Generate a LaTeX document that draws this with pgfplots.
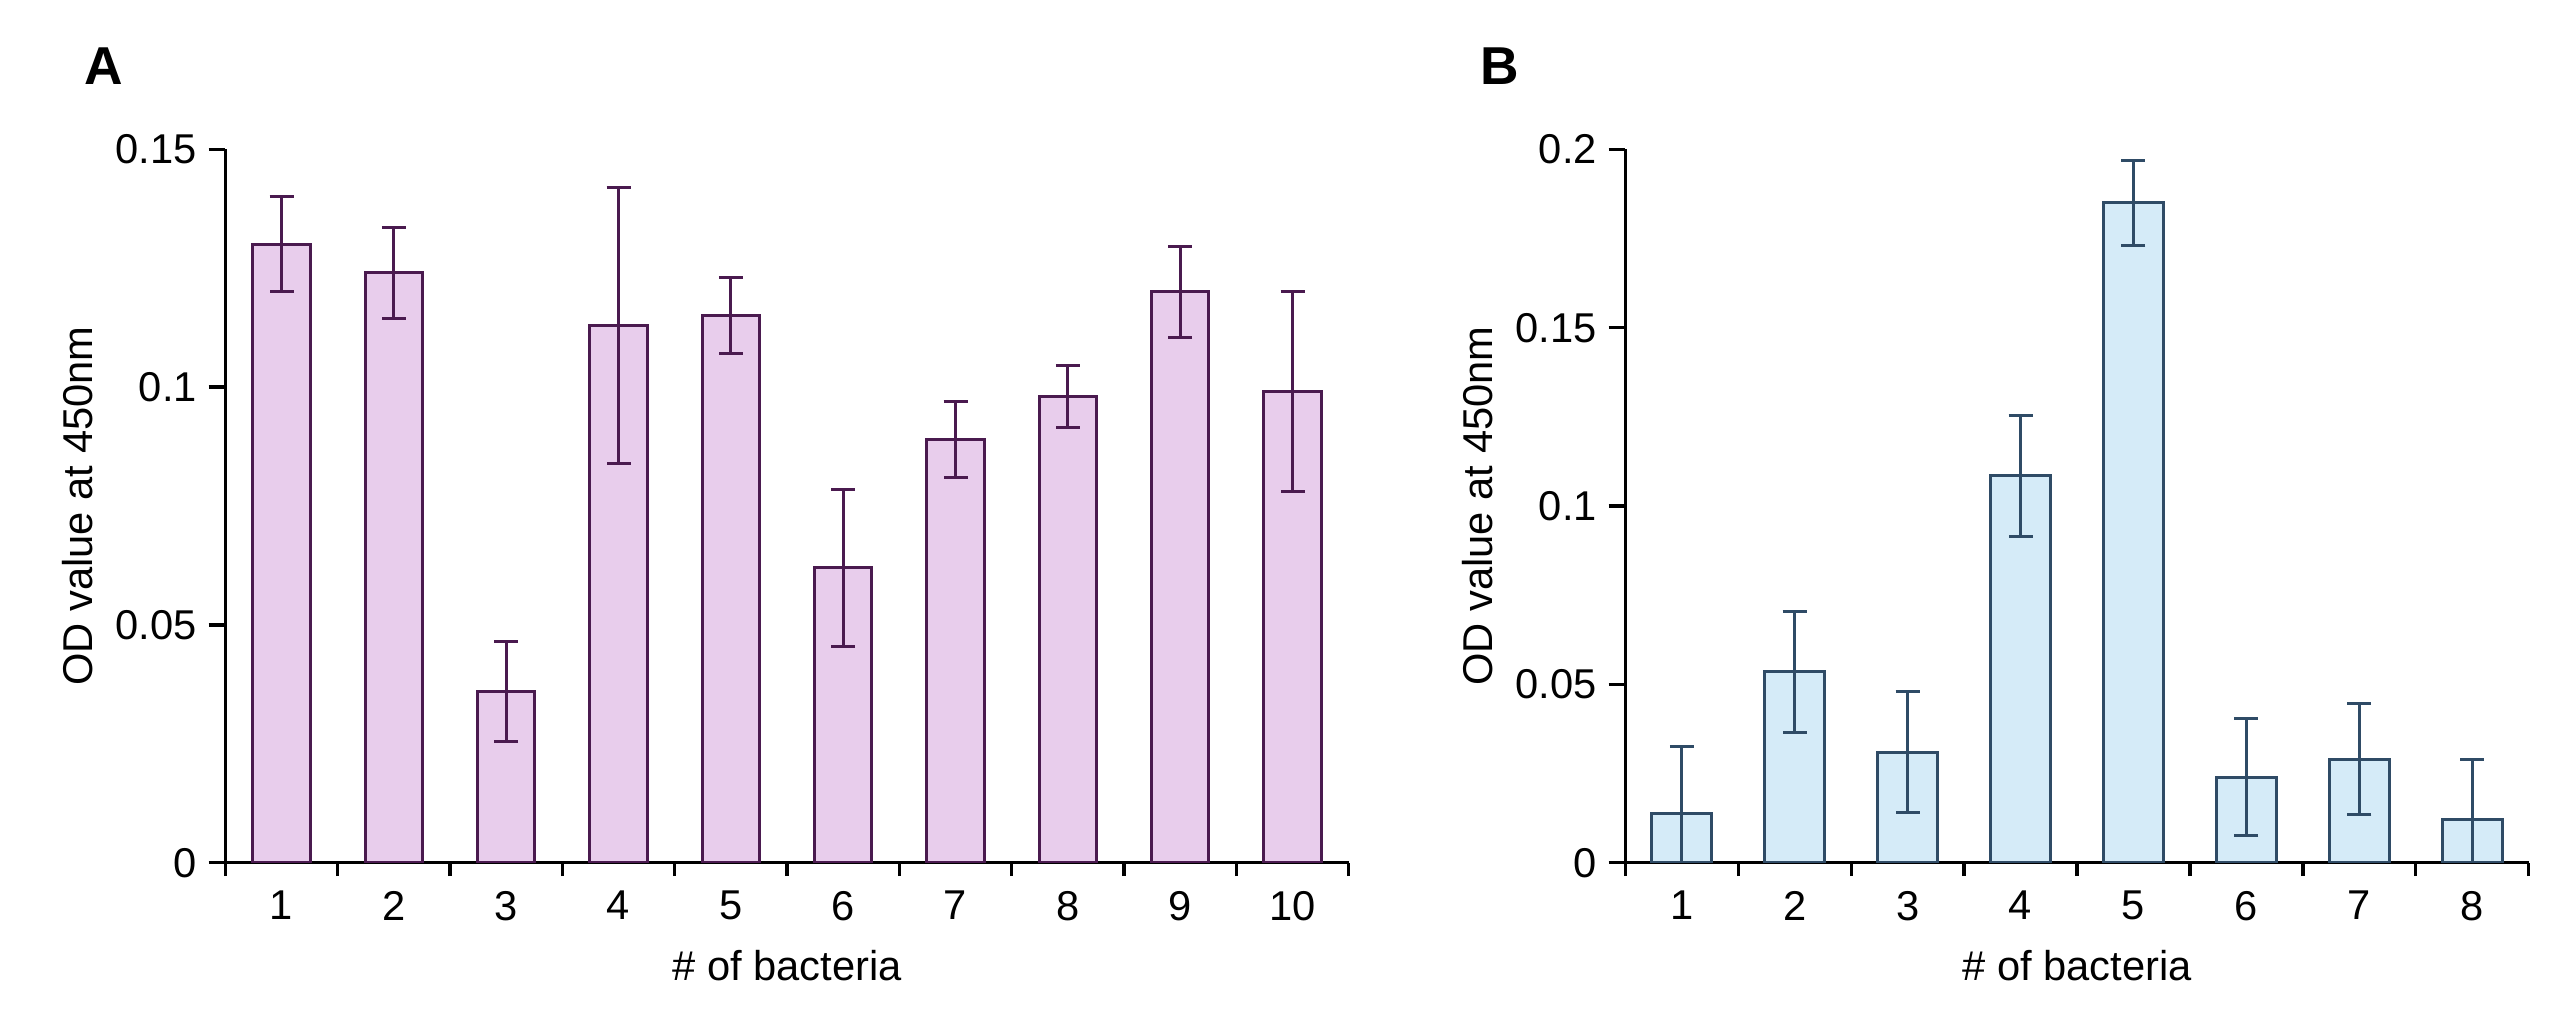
\documentclass[border=0pt]{standalone}
\usepackage{pgfplots}
\pgfplotsset{compat=1.18}
\usepackage{fontspec}
\setmainfont{Liberation Sans}
\definecolor{fa}{HTML}{E8CDEC}\definecolor{ea}{HTML}{4A1A4F}
\definecolor{fb}{HTML}{D5EBF8}\definecolor{eb}{HTML}{2F4B66}
\pgfplotsset{myax/.style={scale only axis, height=214pt, ymin=0,
 axis x line*=bottom, axis y line*=left, tick align=outside,
 axis line style={line width=1pt,black}, every tick/.style={line width=1pt,black},
 font=\fontsize{12.5}{14}\selectfont, /pgf/number format/assume math mode=true,
 xtick style={draw=none}, minor tick length=4pt, major tick length=5pt,
 minor x tick style={draw=black,line width=1pt}, ylabel={OD value at 450nm}, xlabel={\# of bacteria},
 xlabel style={yshift=-2pt}, ylabel style={yshift=0pt},
 yticklabel style={/pgf/number format/fixed}, scaled y ticks=false,
 every axis plot/.append style={line width=0.9pt}}}
\begin{document}
\begin{tikzpicture}
\path (0,0) rectangle (768pt,310.7pt);
\begin{axis}[myax, at={(67.6pt,51.9pt)}, width=337pt, xmin=0.5, xmax=10.5, ymax=0.15,
 xtick={1,...,10}, minor xtick={0.5,1.5,...,10.5}, ytick={0,0.05,0.1,0.15}]
\addplot[ybar, bar width=0.51, fill=fa, draw=ea,
 error bars/.cd, y dir=both, y explicit, error bar style={line width=0.9pt,ea}, error mark options={line width=0.9pt,ea,mark size=3.6pt,rotate=90}]
 coordinates {(1,0.130) +- (0,0.010) (2,0.124) +- (0,0.0095) (3,0.036) +- (0,0.0105) (4,0.113) +- (0,0.029) (5,0.115) +- (0,0.008) (6,0.062) +- (0,0.0165) (7,0.089) +- (0,0.008) (8,0.098) +- (0,0.0065) (9,0.120) +- (0,0.0095) (10,0.099) +- (0,0.021)};
\end{axis}
\begin{axis}[myax, at={(487.6pt,51.9pt)}, width=271pt, xmin=0.5, xmax=8.5, ymax=0.2,
 xtick={1,...,8}, minor xtick={0.5,1.5,...,8.5}, ytick={0,0.05,0.1,0.15,0.2}]
\addplot[ybar, bar width=0.53, fill=fb, draw=eb,
 error bars/.cd, y dir=both, y explicit, error bar style={line width=0.9pt,eb}, error mark options={line width=0.9pt,eb,mark size=3.6pt,rotate=90}]
 coordinates {(1,0.0137) +- (0,0.019) (2,0.0535) +- (0,0.017) (3,0.031) +- (0,0.017) (4,0.1085) +- (0,0.017) (5,0.185) +- (0,0.012) (6,0.024) +- (0,0.0165) (7,0.029) +- (0,0.0155) (8,0.012) +- (0,0.017)};
\end{axis}
\node[font=\fontsize{16}{18}\selectfont\bfseries] at (31pt,291pt) {A};
\node[font=\fontsize{16}{18}\selectfont\bfseries] at (450pt,291pt) {B};
\end{tikzpicture}
\end{document}
